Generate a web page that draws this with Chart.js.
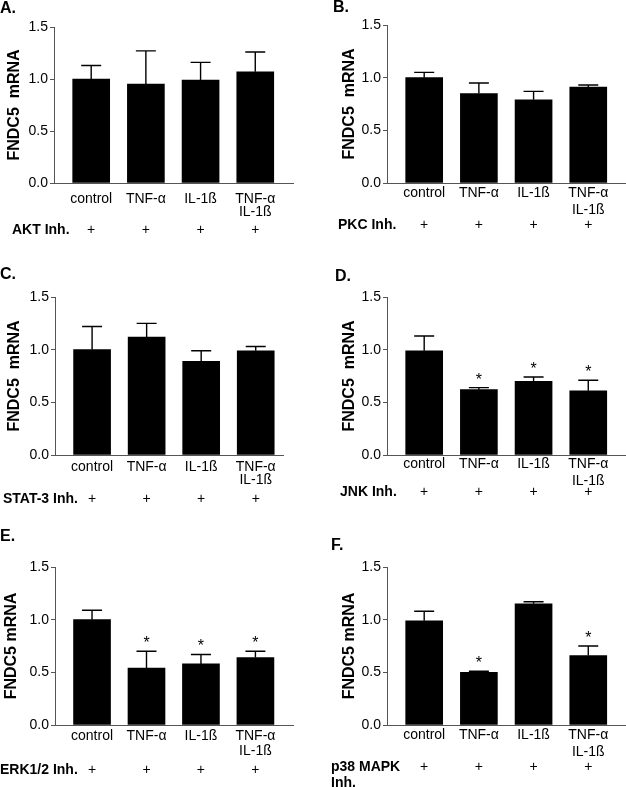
<!DOCTYPE html>
<html lang="en">
<head>
  <meta charset="UTF-8">
  <title>FNDC5 mRNA with pathway inhibitors</title>
  <style>
    body { margin: 0; background: #fff; }
    #fig { position: relative; width: 626px; height: 787px; overflow: hidden; }
    .panel { position: absolute; }
  </style>
</head>
<body>
  <div id="fig">
    <div class="panel" style="left:0;top:0"><canvas id="chartA" width="313" height="262"></canvas></div>
    <div class="panel" style="left:313px;top:0"><canvas id="chartB" width="313" height="262"></canvas></div>
    <div class="panel" style="left:0;top:262px"><canvas id="chartC" width="313" height="262"></canvas></div>
    <div class="panel" style="left:313px;top:262px"><canvas id="chartD" width="313" height="262"></canvas></div>
    <div class="panel" style="left:0;top:524px"><canvas id="chartE" width="313" height="263"></canvas></div>
    <div class="panel" style="left:313px;top:524px"><canvas id="chartF" width="313" height="263"></canvas></div>
  </div>

  <script src="https://cdn.jsdelivr.net/npm/chart.js"></script>
  <script>
    // data
    const groups = ['control', 'TNF-α', 'IL-1ß', ['TNF-α', 'IL-1ß']];
    const yTicks = [0, 0.5, 1.0, 1.5];

    const aktMean = [1.00, 0.95, 0.99, 1.07];
    const aktErr  = [1.13, 1.27, 1.16, 1.26];
    const aktSig  = [false, false, false, false];

    const pkcMean = [1.00, 0.85, 0.79, 0.91];
    const pkcErr  = [1.05, 0.95, 0.87, 0.93];
    const pkcSig  = [false, false, false, false];

    const statMean = [1.00, 1.12, 0.89, 0.99];
    const statErr  = [1.22, 1.25, 0.99, 1.03];
    const statSig  = [false, false, false, false];

    const jnkMean = [0.99, 0.62, 0.70, 0.61];
    const jnkErr  = [1.13, 0.64, 0.74, 0.71];
    const jnkSig  = [false, true, true, true];

    const erkMean = [1.00, 0.54, 0.58, 0.64];
    const erkErr  = [1.09, 0.70, 0.67, 0.70];
    const erkSig  = [false, true, true, true];

    const p38Mean = [0.99, 0.50, 1.15, 0.66];
    const p38Err  = [1.08, 0.51, 1.17, 0.75];
    const p38Sig  = [false, true, false, true];

    const FONT = "'Liberation Sans', Arial, Helvetica, sans-serif";
    Chart.defaults.font.family = FONT;
    Chart.defaults.font.size = 14;
    Chart.defaults.color = '#000';

    // error bars, stars, panel letter and inhibitor row
    const extras = {
      id: 'extras',
      afterDatasetsDraw(chart, args, o) {
        const ctx = chart.ctx;
        const y = chart.scales.y;
        const meta = chart.getDatasetMeta(0);
        ctx.save();
        ctx.strokeStyle = '#000';
        ctx.lineWidth = 1.4;
        meta.data.forEach((bar, i) => {
          const top = y.getPixelForValue(o.err[i]);
          ctx.beginPath();
          ctx.moveTo(bar.x, bar.y);
          ctx.lineTo(bar.x, top);
          ctx.moveTo(bar.x - 10, top);
          ctx.lineTo(bar.x + 10, top);
          ctx.stroke();
          if (o.sig[i]) {
            ctx.fillStyle = '#000';
            ctx.font = '16px ' + FONT;
            ctx.textAlign = 'center';
            ctx.textBaseline = 'alphabetic';
            ctx.fillText('*', bar.x, top - 3);
          }
        });
        ctx.restore();
      },
      afterDraw(chart, args, o) {
        const ctx = chart.ctx;
        const meta = chart.getDatasetMeta(0);
        ctx.save();
        ctx.fillStyle = '#000';
        ctx.font = 'bold 16px ' + FONT;
        ctx.textAlign = 'left';
        ctx.textBaseline = 'middle';
        ctx.fillText(o.letter, o.letterX, o.letterY);

        ctx.font = 'bold 14px ' + FONT;
        o.inh.forEach((line, k) => ctx.fillText(line, o.inhX, o.inhY + k * 16));

        ctx.font = '14px ' + FONT;
        ctx.textAlign = 'center';
        meta.data.forEach(bar => ctx.fillText('+', bar.x, o.inhY));
        ctx.restore();
      }
    };

    function makePanel(id, p) {
      const canvas = document.getElementById(id);
      const H = canvas.height;
      new Chart(canvas, {
        type: 'bar',
        data: {
          datasets: [{
            data: p.mean.map((v, i) => ({ x: i, y: v })),
            backgroundColor: '#000',
            borderWidth: 0,
            barThickness: 37
          }]
        },
        options: {
          responsive: false,
          animation: false,
          devicePixelRatio: 1,
          layout: { padding: { top: p.top, right: p.right, bottom: 0, left: 0 } },
          plugins: {
            legend: { display: false },
            tooltip: { enabled: false },
            extras: {
              err: p.err, sig: p.sig,
              letter: p.letter, letterX: p.letterX, letterY: p.letterY,
              inh: p.inh, inhX: p.inhX, inhY: p.inhY
            }
          },
          scales: {
            x: {
              type: 'linear',
              offset: false,
              min: -0.68,
              max: p.xMax,
              afterBuildTicks: s => { s.ticks = groups.map((g, i) => ({ value: i })); },
              afterFit: s => { s.height = H - p.bottom; },
              ticks: {
                maxRotation: 0,
                autoSkip: false,
                padding: p.tickPad,
                font: { size: 14, lineHeight: p.lineH },
                callback: v => groups[v]
              },
              grid: { display: true, drawOnChartArea: false, drawTicks: false, offset: false },
              border: { display: true, color: '#555', width: 1 }
            },
            y: {
              min: 0,
              max: 1.5,
              afterBuildTicks: s => { s.ticks = yTicks.map(v => ({ value: v })); },
              afterFit: s => { s.width = p.left; },
              ticks: { padding: 2, font: { size: 14 }, callback: v => v.toFixed(1) },
              grid: { drawOnChartArea: false, drawTicks: true, tickLength: 4, color: '#555' },
              border: { display: true, color: '#555', width: 1 },
              title: {
                display: true,
                text: p.title,
                font: { size: 16, weight: 'bold', lineHeight: 1 },
                padding: { top: p.titlePad, bottom: 0 }
              }
            }
          }
        },
        plugins: [extras]
      });
    }

    makePanel('chartA', {
      mean: aktMean, err: aktErr, sig: aktSig, title: 'FNDC5  mRNA',
      left: 54, top: 27, bottom: 183, right: 20, xMax: 3.69,
      tickPad: 10, lineH: 0.9, titlePad: 7,
      letter: 'A.', letterX: 0, letterY: 9, inh: ['AKT Inh.'], inhX: 12, inhY: 230
    });
    makePanel('chartB', {
      mean: pkcMean, err: pkcErr, sig: pkcSig, title: 'FNDC5  mRNA',
      left: 74, top: 25, bottom: 183, right: 0, xMax: 3.69,
      tickPad: 2, lineH: 1.18, titlePad: 29,
      letter: 'B.', letterX: 20, letterY: 8, inh: ['PKC Inh.'], inhX: 25, inhY: 225
    });
    makePanel('chartC', {
      mean: statMean, err: statErr, sig: statSig, title: 'FNDC5  mRNA',
      left: 55, top: 35, bottom: 193, right: 30, xMax: 3.5,
      tickPad: 5, lineH: 0.97, titlePad: 7,
      letter: 'C.', letterX: 0, letterY: 13, inh: ['STAT-3 Inh.'], inhX: 3, inhY: 237
    });
    makePanel('chartD', {
      mean: jnkMean, err: jnkErr, sig: jnkSig, title: 'FNDC5  mRNA',
      left: 74, top: 35, bottom: 193, right: 0, xMax: 3.69,
      tickPad: 1, lineH: 1.18, titlePad: 29,
      letter: 'D.', letterX: 22, letterY: 15, inh: ['JNK Inh.'], inhX: 27, inhY: 230
    });
    makePanel('chartE', {
      mean: erkMean, err: erkErr, sig: erkSig, title: 'FNDC5 mRNA',
      left: 55, top: 43, bottom: 201, right: 20, xMax: 3.69,
      tickPad: 4, lineH: 1.07, titlePad: 4,
      letter: 'E.', letterX: 0, letterY: 13, inh: ['ERK1/2 Inh.'], inhX: 0, inhY: 246
    });
    makePanel('chartF', {
      mean: p38Mean, err: p38Err, sig: p38Sig, title: 'FNDC5 mRNA',
      left: 74, top: 43, bottom: 201, right: 0, xMax: 3.69,
      tickPad: 2, lineH: 1.18, titlePad: 29,
      letter: 'F.', letterX: 18, letterY: 22, inh: ['p38 MAPK', 'Inh.'], inhX: 18, inhY: 243
    });
  </script>
</body>
</html>
